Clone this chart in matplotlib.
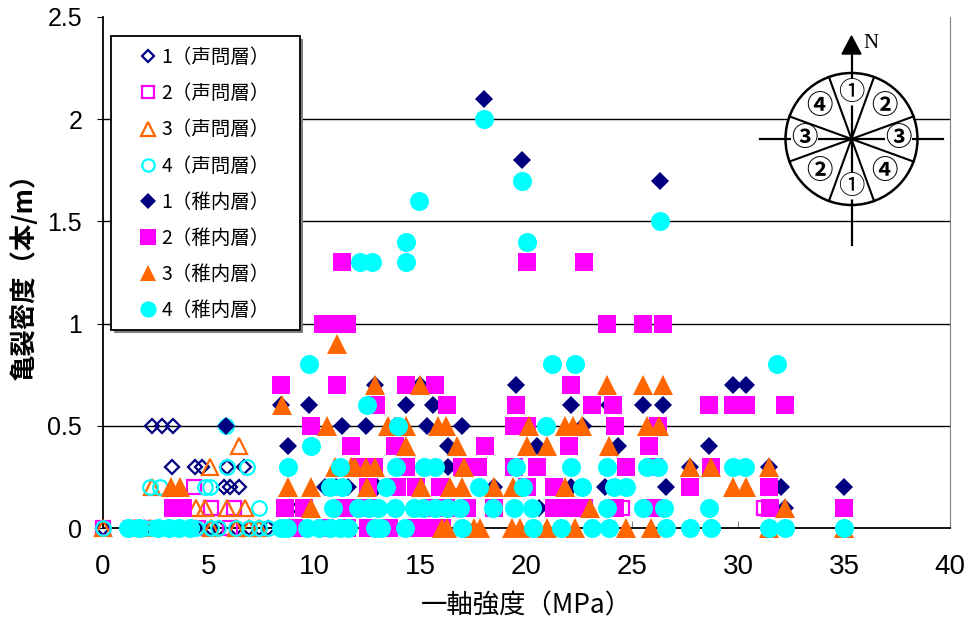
import matplotlib
matplotlib.use('Agg')
import matplotlib.pyplot as plt
from matplotlib.patches import Circle, Rectangle, Polygon
import numpy as np

# ---------------- data ----------------
# 1(声問層) open diamond
s1o_x = [2.3, 2.77, 3.3, 3.25, 4.35, 4.67, 5.85, 6.65, 5.7, 6.0, 6.4, 8.9,
         0.0, 1.4, 2.0, 4.4, 5.1, 5.5, 6.3, 6.9, 7.35, 7.8]
s1o_y = [0.5, 0.5, 0.5, 0.3, 0.3, 0.3, 0.3, 0.3, 0.2, 0.2, 0.2, 0.1,
         0.0, 0.0, 0.0, 0.0, 0.0, 0.0, 0.0, 0.0, 0.0, 0.0]
# 2(声問層) open square
s2o_x = [4.3, 5.1, 6.2, 24.5, 31.2, 0.0, 1.3, 2.2, 4.5, 6.0]
s2o_y = [0.2, 0.1, 0.1, 0.1, 0.1, 0.0, 0.0, 0.0, 0.0, 0.0]
# 3(声問層) open triangle
s3o_x = [6.4, 5.06, 4.4, 4.8, 5.85, 6.7, 2.3, 0.0, 1.5, 2.2, 5.1, 6.3, 6.9, 7.35]
s3o_y = [0.4, 0.3, 0.1, 0.1, 0.1, 0.1, 0.2, 0.0, 0.0, 0.0, 0.0, 0.0, 0.0, 0.0]
# 4(声問層) open circle
s4o_x = [5.8, 5.85, 6.8, 2.2, 2.7, 4.8, 5.06, 7.35, 0.0, 1.5, 2.0, 2.3, 2.5,
         2.75, 4.4, 5.1, 5.45, 6.3, 6.9, 7.35, 7.8]
s4o_y = [0.5, 0.3, 0.3, 0.2, 0.2, 0.2, 0.2, 0.1, 0.0, 0.0, 0.0, 0.0, 0.0,
         0.0, 0.0, 0.0, 0.0, 0.0, 0.0, 0.0, 0.0]
# 1(稚内層) filled diamond
s1f_x = [18.0, 19.8, 26.3,
         19.5, 29.75, 30.35, 12.85, 14.95,
         8.4, 9.75, 14.3, 15.6, 22.1, 23.9, 25.5, 26.45,
         11.3, 12.4, 13.8, 15.3, 16.95, 22.65, 5.8,
         8.75, 16.3, 20.5, 24.3, 28.6,
         16.3, 27.7, 31.45,
         10.5, 11.0, 11.55, 12.95, 18.45, 22.1, 23.7, 26.6, 32.0, 35.0,
         20.6, 22.0, 25.9, 32.2]
s1f_y = [2.1, 1.8, 1.7,
         0.7, 0.7, 0.7, 0.7, 0.7,
         0.6, 0.6, 0.6, 0.6, 0.6, 0.6, 0.6, 0.6,
         0.5, 0.5, 0.5, 0.5, 0.5, 0.5, 0.5,
         0.4, 0.4, 0.4, 0.4, 0.4,
         0.3, 0.3, 0.3,
         0.2, 0.2, 0.2, 0.2, 0.2, 0.2, 0.2, 0.2, 0.2, 0.2,
         0.1, 0.1, 0.1, 0.1]
# 2(稚内層) filled square
s2f_x = [11.3, 20.0, 22.7,
         10.4, 10.9, 11.5, 23.8, 25.5, 26.45,
         8.4, 11.05, 14.3, 15.7, 22.1,
         12.9, 16.25, 19.5, 23.1, 24.1, 28.6, 29.75, 30.35, 32.2,
         9.8, 19.4, 20.0, 24.2, 26.2,
         11.7, 13.8, 18.05, 22.0, 25.8,
         12.1, 12.8, 14.3, 16.95, 17.7, 19.4, 20.5, 24.7, 26.0, 28.7,
         12.5, 13.9, 14.8, 15.9, 20.0, 21.3, 27.7, 31.45,
         3.3, 3.8, 8.6, 9.5, 11.3, 12.0, 12.6, 15.5, 16.2, 17.2, 18.45, 21.3,
         22.0, 22.7, 24.2, 26.0, 31.5, 35.0,
         9.0, 10.5, 11.5, 12.5, 13.5, 14.8, 15.5, 16.0]
s2f_y = [1.3, 1.3, 1.3,
         1.0, 1.0, 1.0, 1.0, 1.0, 1.0,
         0.7, 0.7, 0.7, 0.7, 0.7,
         0.6, 0.6, 0.6, 0.6, 0.6, 0.6, 0.6, 0.6, 0.6,
         0.5, 0.5, 0.5, 0.5, 0.5,
         0.4, 0.4, 0.4, 0.4, 0.4,
         0.3, 0.3, 0.3, 0.3, 0.3, 0.3, 0.3, 0.3, 0.3, 0.3,
         0.2, 0.2, 0.2, 0.2, 0.2, 0.2, 0.2, 0.2,
         0.1, 0.1, 0.1, 0.1, 0.1, 0.1, 0.1, 0.1, 0.1, 0.1, 0.1, 0.1,
         0.1, 0.1, 0.1, 0.1, 0.1, 0.1,
         0.0, 0.0, 0.0, 0.0, 0.0, 0.0, 0.0, 0.0]
# 3(稚内層) filled triangle
s3f_x = [11.05,
         12.85, 14.95, 23.8, 25.5, 26.45,
         8.45,
         10.6, 13.45, 14.3, 15.8, 16.2, 20.1, 21.8, 22.2, 22.6, 25.7, 26.25,
         14.3, 16.7, 20.0, 20.95, 23.9,
         10.95, 11.7, 11.9, 12.4, 12.85, 17.05, 27.7, 28.7, 31.45,
         3.2, 3.65, 8.75, 9.8, 12.45, 15.0, 16.4, 16.95, 18.45, 19.35, 21.8,
         29.75, 30.35,
         9.8, 23.0, 32.2,
         16.0, 16.25, 17.5, 17.8, 19.3, 19.7, 20.95, 22.3, 24.7, 25.9, 31.45, 35.0]
s3f_y = [0.9,
         0.7, 0.7, 0.7, 0.7, 0.7,
         0.6,
         0.5, 0.5, 0.5, 0.5, 0.5, 0.5, 0.5, 0.5, 0.5, 0.5, 0.5,
         0.4, 0.4, 0.4, 0.4, 0.4,
         0.3, 0.3, 0.3, 0.3, 0.3, 0.3, 0.3, 0.3, 0.3,
         0.2, 0.2, 0.2, 0.2, 0.2, 0.2, 0.2, 0.2, 0.2, 0.2, 0.2,
         0.2, 0.2,
         0.1, 0.1, 0.1,
         0.0, 0.0, 0.0, 0.0, 0.0, 0.0, 0.0, 0.0, 0.0, 0.0, 0.0, 0.0]
# 4(稚内層) filled circle
s4f_x = [18.0, 19.8, 26.3, 14.9, 14.3, 20.0, 14.3, 12.15, 12.7,
         9.75, 21.2, 22.3, 31.85,
         12.45,
         13.95, 20.9,
         9.8,
         8.75, 11.2, 13.85, 15.15, 15.7, 19.5, 22.1, 23.8, 25.7, 26.2, 29.75, 30.3,
         10.7, 11.3, 13.35, 17.75, 19.85, 22.6, 24.15, 24.7,
         10.85, 12.05, 12.55, 13.0, 13.8, 14.7, 15.1, 15.7, 16.25, 16.85, 18.4,
         19.4, 20.25, 23.8, 25.5, 26.5, 28.6,
         1.2, 1.7, 2.6, 3.1, 3.6, 4.1, 8.4, 8.7, 9.65, 10.2, 10.7, 11.2, 11.55,
         12.85, 13.15, 14.25, 16.95, 20.3, 21.65, 23.1, 23.9, 26.6, 27.7, 28.7,
         31.45, 32.2, 35.0]
s4f_y = [2.0, 1.7, 1.5, 1.6, 1.4, 1.4, 1.3, 1.3, 1.3,
         0.8, 0.8, 0.8, 0.8,
         0.6,
         0.5, 0.5,
         0.4,
         0.3, 0.3, 0.3, 0.3, 0.3, 0.3, 0.3, 0.3, 0.3, 0.3, 0.3, 0.3,
         0.2, 0.2, 0.2, 0.2, 0.2, 0.2, 0.2, 0.2,
         0.1, 0.1, 0.1, 0.1, 0.1, 0.1, 0.1, 0.1, 0.1, 0.1, 0.1,
         0.1, 0.1, 0.1, 0.1, 0.1, 0.1,
         0.0, 0.0, 0.0, 0.0, 0.0, 0.0, 0.0, 0.0, 0.0, 0.0, 0.0, 0.0, 0.0,
         0.0, 0.0, 0.0, 0.0, 0.0, 0.0, 0.0, 0.0, 0.0, 0.0, 0.0,
         0.0, 0.0, 0.0]

labels = ['1（声問層）', '2（声問層）', '3（声問層）', '4（声問層）',
          '1（稚内層）', '2（稚内層）', '3（稚内層）', '4（稚内層）']
x_ticks = [0, 5, 10, 15, 20, 25, 30, 35, 40]
y_ticks = [0, 0.5, 1, 1.5, 2, 2.5]
y_ticklabels = ['0', '0.5', '1', '1.5', '2', '2.5']

NAVY = '#000080'
MAG = '#FF00FF'
ORG = '#FF6600'
CYN = '#00FFFF'

plt.rcParams['font.family'] = ['Noto Sans CJK JP', 'DejaVu Sans']

W, H = 971, 623
fig = plt.figure(figsize=(W / 100, H / 100), dpi=100)
ax = fig.add_axes([103 / W, 1 - 528 / H, (950 - 103) / W, (528 - 17) / H])
ax.set_xlim(0, 40)
ax.set_ylim(0, 2.5)

series = [
    (s1o_x, s1o_y, dict(marker='D', ms=7.6, mfc='none', mec=NAVY, mew=1.6)),
    (s2o_x, s2o_y, dict(marker='s', ms=10.5, mfc='none', mec=MAG, mew=1.6)),
    (s3o_x, s3o_y, dict(marker='^', ms=11.5, mfc='none', mec=ORG, mew=1.6)),
    (s4o_x, s4o_y, dict(marker='o', ms=10.5, mfc='none', mec=CYN, mew=1.6)),
    (s1f_x, s1f_y, dict(marker='D', ms=9.6, mfc=NAVY, mec=NAVY, mew=0)),
    (s2f_x, s2f_y, dict(marker='s', ms=13.3, mfc=MAG, mec=MAG, mew=0)),
    (s3f_x, s3f_y, dict(marker='^', ms=13.8, mfc=ORG, mec=ORG, mew=0)),
    (s4f_x, s4f_y, dict(marker='o', ms=13.7, mfc=CYN, mec=CYN, mew=0)),
]
handles = []
for (xs, ys, kw), lab in zip(series, labels):
    h, = ax.plot(xs, ys, ls='none', clip_on=False, zorder=3, label=lab, **kw)
    handles.append(h)

# grid and spines
for yv in [0.5, 1.0, 1.5, 2.0]:
    ax.axhline(yv, color='black', lw=1.0, zorder=1)
ax.spines['top'].set_visible(False)
ax.spines['right'].set_color('#808080')
ax.spines['left'].set_linewidth(1.3)
ax.spines['bottom'].set_linewidth(1.3)

ax.set_xticks(x_ticks)
ax.set_xticklabels([str(v) for v in x_ticks], family=['Liberation Sans Narrow', 'Liberation Sans'])
ax.set_yticks(y_ticks)
ax.set_yticklabels(y_ticklabels, family=['Liberation Sans', 'DejaVu Sans'])
ax.tick_params(axis='x', direction='in', length=5, color='#808080', labelsize=20, pad=19)
ax.tick_params(axis='y', direction='out', length=4, labelsize=18, pad=11)

fig.text(526 / W, 1 - 606 / H, '一軸強度（MPa）', fontsize=19, ha='center', va='center')
fig.text(24 / W, 1 - 270 / H, '亀裂密度（本/m）', fontsize=19, ha='center', va='center',
         rotation=90, weight='bold')

# legend frame with shadow
leg_l, leg_t, leg_r, leg_b = 111, 36, 300, 330
ax.add_patch(Rectangle(((leg_l + 3) / W, 1 - (leg_b + 3) / H), (leg_r - leg_l) / W, (leg_b - leg_t) / H,
                       transform=fig.transFigure, facecolor='#808080', edgecolor='none',
                       zorder=4, clip_on=False))
ax.add_patch(Rectangle((leg_l / W, 1 - leg_b / H), (leg_r - leg_l) / W, (leg_b - leg_t) / H,
                       transform=fig.transFigure, facecolor='white', edgecolor='black', lw=1.3,
                       zorder=4.1, clip_on=False))
leg = ax.legend(handles=handles, loc='upper left', bbox_to_anchor=(138 / W, 1 - 47 / H),
                bbox_transform=fig.transFigure, frameon=False, fontsize=14,
                handlelength=1.0, handletextpad=0.2, labelspacing=0.78, borderpad=0, borderaxespad=0,
                markerscale=0.85)
leg.set_zorder(5)

# compass inset
cax = fig.add_axes([755 / W, 1 - 250 / H, 195 / W, 220 / H])
cax.set_xlim(755, 950)
cax.set_ylim(250, 30)
cax.axis('off')
cx, cy, r = 851.5, 139, 66
cax.add_patch(Circle((cx, cy), r, facecolor='white', edgecolor='black', lw=1.8, zorder=1))
for ang in [20, -20, 70, 110]:
    a = np.deg2rad(ang)
    dx, dy = r * np.sin(a), -r * np.cos(a)
    cax.plot([cx - dx, cx + dx], [cy - dy, cy + dy], color='black', lw=1.5, zorder=2)
cax.plot([cx, cx], [50, 245], color='black', lw=1.6, zorder=2)
cax.plot([760, 943], [cy, cy], color='black', lw=1.6, zorder=2)
cax.add_patch(Polygon([[cx, 36], [cx - 9.5, 54], [cx + 9.5, 54]], closed=True,
                      facecolor='black', edgecolor='black', zorder=3))
cax.text(cx + 12, 43, 'N', fontsize=15, family=['Liberation Serif', 'DejaVu Serif'],
         ha='left', va='center')
nums = [('①', 0), ('②', 45), ('③', 90), ('④', 135), ('①', 180), ('②', 225), ('③', 270), ('④', 315)]
for t, ang in nums:
    a = np.deg2rad(ang)
    rr = 47 if ang % 90 == 0 else 46
    tx, ty = cx + rr * np.sin(a), cy - rr * np.cos(a)
    wt = 'normal' if t in ('①',) else 'bold'
    cax.text(tx, ty, t, fontsize=19, ha='center', va='center', zorder=4, weight=wt,
             bbox=dict(boxstyle='circle,pad=0.0', facecolor='white', edgecolor='none'))

fig.savefig('out.png', dpi=100)
